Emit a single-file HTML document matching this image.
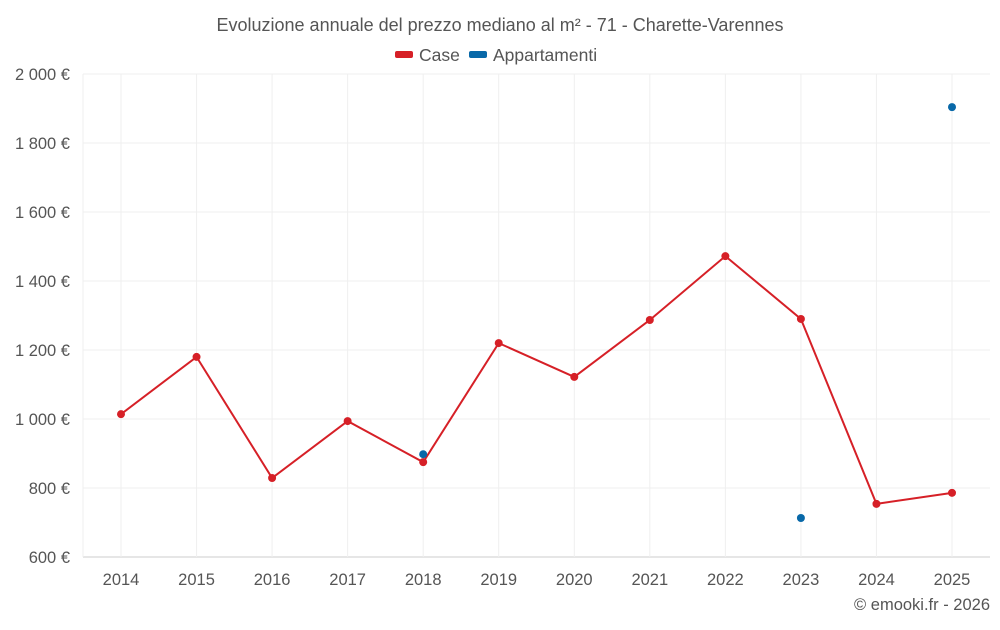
<!DOCTYPE html>
<html><head><meta charset="utf-8"><style>
body{margin:0;background:#fff;font-family:"Liberation Sans",sans-serif}
svg text{font-family:"Liberation Sans",sans-serif}
</style></head><body>
<svg id="c" width="1000" height="625">
<text x="500" y="31" text-anchor="middle" font-size="18" fill="#555">Evoluzione annuale del prezzo mediano al m² - 71 - Charette-Varennes</text>
<g>
<g><rect x="395" y="51" width="18" height="7" rx="2" fill="#d62027"/><text x="419" y="61" font-size="17.5" fill="#555">Case</text></g>
<g><rect x="469" y="51" width="18" height="7" rx="2" fill="#0868a8"/><text x="493" y="61" font-size="17.5" fill="#555">Appartamenti</text></g>
</g>
<g id="grid"></g><g id="axes"></g><g id="marks"></g>
<text x="990" y="610" text-anchor="end" font-size="16.5" fill="#555">© emooki.fr - 2026</text>
</svg>
<script>
const years=[2014,2015,2016,2017,2018,2019,2020,2021,2022,2023,2024,2025];
const caseVals=[1014,1180,829,994,875,1220,1122,1287,1472,1290,754,786];
const appVals=[null,null,null,null,898,null,null,null,null,713,null,1904];
const yTicks=[600,800,1000,1200,1400,1600,1800,2000];
const yTickLabels=["600 €","800 €","1 000 €","1 200 €","1 400 €","1 600 €","1 800 €","2 000 €"];
const NS="http://www.w3.org/2000/svg";
const L=83,R=990,T=74,B=557;
const x=i=>121+i*(952-121)/11;
const y=v=>B-(v-600)/1400*(B-T);
function mk(tag,attrs,parent){const e=document.createElementNS(NS,tag);for(const k in attrs)e.setAttribute(k,attrs[k]);document.getElementById(parent).appendChild(e);return e;}
yTicks.forEach((t,i)=>{
 const g=mk('line',{x1:L,x2:R,y1:y(t),y2:y(t),stroke:i==0?'#ccc':'#efefef','stroke-width':1},'grid');
 
 
 const tx=mk('text',{x:70,y:y(t)+6,'text-anchor':'end','font-size':16.5,fill:'#555'},'axes');
 tx.textContent=yTickLabels[i];
 
 
});
years.forEach((yr,i)=>{
 const g=mk('line',{x1:x(i),x2:x(i),y1:T,y2:B,stroke:'#efefef'},'grid');
 
 
 const tx=mk('text',{x:x(i),y:585,'text-anchor':'middle','font-size':16.5,fill:'#555'},'axes');
 tx.textContent=yr;
 
 
});
const l0=mk('line',{x1:L,x2:L,y1:T,y2:B,stroke:'#efefef'},'grid');


const p=mk('polyline',{points:caseVals.map((v,i)=>x(i)+','+y(v)).join(' '),fill:'none',stroke:'#d62027','stroke-width':2},'marks');


caseVals.forEach((v,i)=>{
 const c=mk('circle',{cx:x(i),cy:y(v),r:4,fill:'#d62027'},'marks');
 
 
});
appVals.forEach((v,i)=>{if(v==null)return;
 const c=mk('circle',{cx:x(i),cy:y(v),r:4,fill:'#0868a8'},'marks');
 
 
});
</script>
</body></html>
